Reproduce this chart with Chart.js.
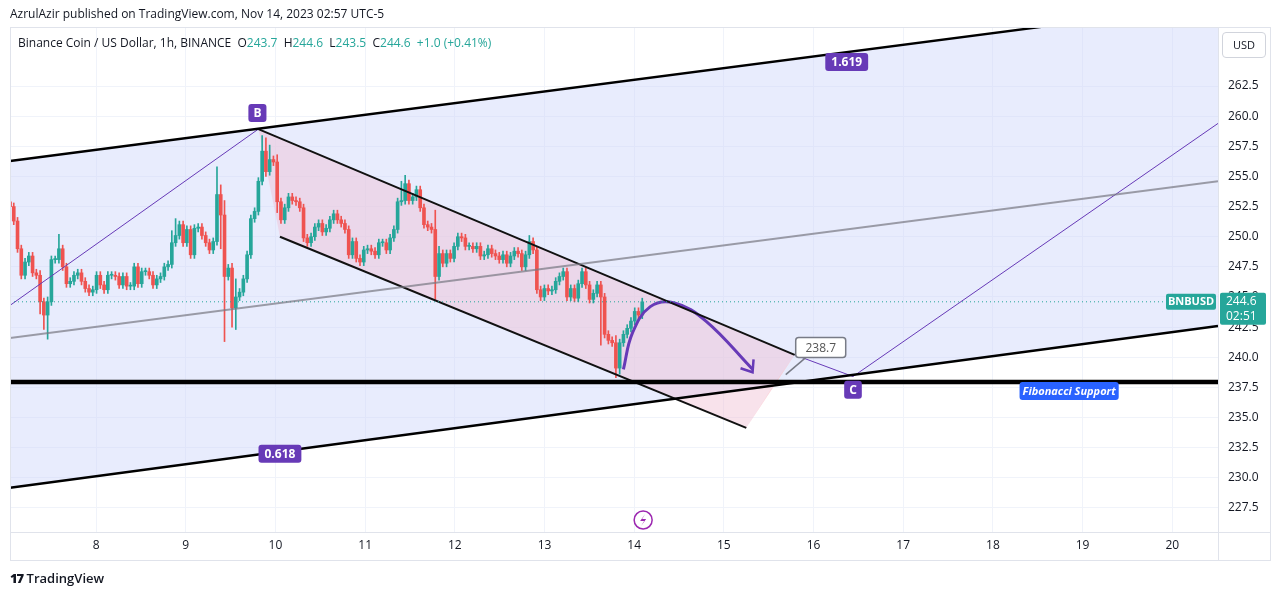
<!DOCTYPE html>
<html><head><meta charset="utf-8">
<script src="https://cdn.jsdelivr.net/npm/chart.js@4.4.0/dist/chart.umd.min.js"></script>
<style>
body{margin:0;background:#fff;font-family:"Open Sans",Roboto,sans-serif;}
#wrap{position:relative;width:1281px;height:595px;}
canvas{position:absolute;left:0;top:0;}
.t{position:absolute;white-space:nowrap;color:#131722;}
</style></head><body>
<div id="wrap">
<canvas id="c" width="1281" height="595"></canvas>
<div class="t" style="left:10px;top:5px;font-size:12px;">AzrulAzir published on TradingView.com, Nov 14, 2023 02:57 UTC-5</div>
<div class="t" style="left:18px;top:34px;font-size:12px;">Binance Coin / US Dollar, 1h, BINANCE&nbsp; O<span style="color:#26a69a">243.7</span>&nbsp; H<span style="color:#26a69a">244.6</span>&nbsp; L<span style="color:#26a69a">243.5</span>&nbsp; C<span style="color:#26a69a">244.6</span>&nbsp; <span style="color:#26a69a">+1.0 (+0.41%)</span></div>
<div class="t" style="left:1222px;top:32px;width:42px;height:24px;border:1px solid #d1d4dc;border-radius:4px;font-size:11px;line-height:24px;text-align:center;">USD</div>
<div class="t" style="left:10px;top:569px;font-size:13px;font-weight:600;"><span style="font-weight:900;letter-spacing:-1px">17</span> TradingView</div>
</div>
<script>
// ---- data ----
const startDay = 7.04, lastDay = 14.09;
const closes = [252.5,251.3,249.0,246.8,247.9,248.4,247.0,246.8,244.6,243.5,244.6,248.1,248.1,249.0,247.5,246.1,246.3,246.8,247.0,246.3,245.7,245.4,245.6,246.8,246.0,245.6,246.8,246.8,246.7,246.0,246.7,245.9,245.9,247.5,246.1,247.1,247.1,246.8,246.0,246.5,246.7,247.5,247.7,249.5,250.1,251.0,249.5,250.6,248.5,250.7,250.8,250.1,249.5,248.9,249.6,253.5,251.8,246.7,247.4,244.1,245.0,245.4,246.5,248.5,251.5,252.1,254.6,257.1,255.4,256.4,256.2,
252.9,251.4,252.4,253.3,253.0,252.9,252.4,249.9,249.5,250.0,250.8,251.1,250.4,250.7,251.4,251.9,251.4,251.1,250.6,248.5,249.6,248.2,247.9,248.9,249.0,248.8,248.5,249.5,249.5,248.9,249.9,250.6,252.9,253.0,254.4,253.0,253.3,253.9,252.4,251.0,250.8,250.6,246.7,248.6,247.8,248.6,248.2,249.2,250.0,249.9,249.2,
249.2,249.0,249.2,248.4,248.5,249.0,248.6,248.4,248.1,248.5,247.8,248.4,248.8,248.6,247.5,248.5,249.6,248.9,245.6,245.0,245.7,245.5,245.6,246.3,246.7,247.1,245.0,245.7,244.9,246.1,247.1,246.0,244.8,245.3,246.0,245.0,241.9,241.4,241.2,239.1,241.2,241.9,242.4,243.0,243.8,243.5,244.6];
const firstOpen = 252.9;
const wickOverrides = {0:[253.3,252.0],8:[247.2,243.6],9:[244.8,242.3],10:[245.0,241.5],13:[250.2,248.6],43:[250.5,248.8],44:[251.5,249.6],55:[255.8,251.5],56:[254.3,249.0],57:[253.0,241.3],59:[247.8,242.5],60:[246.5,242.3],67:[258.4,254.4],68:[258.2,255.0],69:[257.6,255.2],71:[256.8,252.0],104:[254.6,252.8],105:[255.1,252.9],113:[252.2,244.8],114:[249.2,246.5],138:[250.1,248.6],157:[245.3,241.0],161:[241.8,238.3],162:[241.5,238.6]};
const yTicks = [227.5,230,232.5,235,237.5,240,242.5,245,247.5,250,252.5,255,257.5,260,262.5];
const xTicks = [8,9,10,11,12,13,14,15,16,17,18,19,20];
// drawings (day, price)
const upperLine = [[7.04,256.28],[18.52,267.39],[20.6,269.4]];
const lowerLine = [[7.04,229.17],[20.51,242.6]];
const midLine = [[7.04,241.6],[20.51,254.6]];
const supportLevel = 237.95;
const lastPrice = 244.6;
const downTop = [[9.81,258.93],[15.79,240.2]];
const downBot = [[10.05,250.0],[15.25,234.14]];
const pinkTri = [[15.25,234.14],[15.79,240.2],[15.6,238.2]];
const purpleA = [[7.04,244.3],[9.81,258.93]];
const purpleB = [[15.79,240.2],[16.44,238.4],[20.51,259.4]];
const arc = [[13.88,239.0],[13.98,242.0],[14.18,244.2],[14.45,244.5],[14.8,243.0],[15.32,239.0]];

// ---- build candles ----
const step = (lastDay-startDay)/(closes.length-1);
const bodies=[], wicks=[], cols=[];
let o = firstOpen;
closes.forEach((c,i)=>{
  const x = startDay + i*step;
  let hi = Math.max(o,c)+0.3, lo = Math.min(o,c)-0.3;
  if (wickOverrides[i]) { hi = Math.max(hi,wickOverrides[i][0]); lo = Math.min(lo,wickOverrides[i][1]); }
  bodies.push({x, y:[o,c]}); wicks.push({x, y:[lo,hi]});
  cols.push(c>=o ? '#26a69a' : '#ef5350');
  o = c;
});
const pts = a => a.map(p=>({x:p[0],y:p[1]}));

const drawPlugin = {
  id:'draw',
  beforeDatasetsDraw(ch){
    const {ctx, scales:{x,y}, chartArea:ca} = ch;
    const P = p=>[x.getPixelForValue(p[0]), y.getPixelForValue(p[1])];
    ctx.save(); ctx.beginPath(); ctx.rect(ca.left,ca.top,ca.right-ca.left,ca.bottom-ca.top); ctx.clip();
    ctx.fillStyle='rgba(205,213,250,0.45)';
    ctx.beginPath();
    [upperLine[0],upperLine[2]].concat([lowerLine[1],lowerLine[0]]).forEach((p,i)=>{const q=P(p); i?ctx.lineTo(...q):ctx.moveTo(...q);});
    ctx.closePath(); ctx.fill();
    ctx.fillStyle='rgba(240,190,210,0.45)';
    ctx.beginPath();
    [downTop[0],downTop[1],downBot[1],downBot[0]].forEach((p,i)=>{const q=P(p); i?ctx.lineTo(...q):ctx.moveTo(...q);});
    ctx.closePath(); ctx.fill();
    ctx.fillStyle='rgba(255,200,200,0.6)';
    ctx.beginPath(); pinkTri.forEach((p,i)=>{const q=P(p); i?ctx.lineTo(...q):ctx.moveTo(...q);}); ctx.closePath(); ctx.fill();
    ctx.restore();
  },
  afterDatasetsDraw(ch){
    const {ctx, scales:{x,y}, chartArea:ca} = ch;
    const P = p=>[x.getPixelForValue(p[0]), y.getPixelForValue(p[1])];
    const e=P(arc[arc.length-1]);
    ctx.save();
    ctx.strokeStyle='#673ab7'; ctx.lineWidth=2.5;
    ctx.beginPath(); ctx.moveTo(e[0]-12,e[1]-1); ctx.lineTo(e[0],e[1]+3); ctx.lineTo(e[0]+1,e[1]-10); ctx.stroke();
    const box=(txt,p,bg,fg,dx,dy,font,pad)=>{
      ctx.font=font; const w=ctx.measureText(txt).width+pad*2, h=18;
      const cx=P(p)[0]+dx, cy=P(p)[1]+dy;
      ctx.fillStyle=bg; ctx.beginPath(); ctx.roundRect(cx-w/2,cy-h/2,w,h,3); ctx.fill();
      ctx.fillStyle=fg; ctx.textAlign='center'; ctx.textBaseline='middle'; ctx.fillText(txt,cx,cy+0.5);
    };
    box('B',downTop[0],'#673ab7','#fff',-1,-16,'bold 12px "Open Sans"',5);
    box('1.619',[16.37,264.5],'#673ab7','#fff',0,0,'bold 12px "Open Sans"',6);
    box('0.618',[10.05,232.0],'#673ab7','#fff',0,0,'bold 12px "Open Sans"',6);
    box('C',[16.44,237.3],'#673ab7','#fff',0,0,'bold 12px "Open Sans"',5);
    box('Fibonacci Support',[18.85,237.2],'#2962ff','#fff',0,0,'italic bold 11px "Open Sans"',3);
    ctx.strokeStyle='#787b86'; ctx.lineWidth=1.5; ctx.fillStyle='#fff';
    const cp=P([16.08,240.8]);
    ctx.beginPath(); ctx.roundRect(cp[0]-25,cp[1]-10,50,20,3); ctx.fill(); ctx.stroke();
    ctx.beginPath(); ctx.moveTo(cp[0]-15,cp[1]+10); ctx.lineTo(cp[0]-35,cp[1]+27); ctx.stroke();
    ctx.fillStyle='#555'; ctx.font='12px "Open Sans"'; ctx.textAlign='center'; ctx.textBaseline='middle'; ctx.fillText('238.7',cp[0],cp[1]+1);
    const ly=y.getPixelForValue(lastPrice);
    ctx.fillStyle='#26a69a'; ctx.beginPath(); ctx.roundRect(ca.right-52,ly-8,50,16,2); ctx.fill();
    ctx.fillStyle='#fff'; ctx.font='bold 11px "Open Sans"'; ctx.fillText('BNBUSD',ca.right-27,ly);
    ctx.fillStyle='#26a69a'; ctx.beginPath(); ctx.roundRect(ca.right+2,ly-9,46,32,2); ctx.fill();
    ctx.fillStyle='#fff'; ctx.font='12px "Open Sans"'; ctx.textAlign='left'; ctx.fillText('244.6',ca.right+8,ly); ctx.fillText('02:51',ca.right+8,ly+15);
    const lp=[x.getPixelForValue(14.1),ca.bottom-12];
    ctx.strokeStyle='#9c27b0'; ctx.lineWidth=1.5; ctx.beginPath(); ctx.arc(lp[0],lp[1],9,0,Math.PI*2); ctx.stroke();
    ctx.fillStyle='#9c27b0'; ctx.beginPath(); ctx.moveTo(lp[0]+2,lp[1]-6); ctx.lineTo(lp[0]-3,lp[1]+1); ctx.lineTo(lp[0]+1,lp[1]+1); ctx.lineTo(lp[0]-2,lp[1]+6); ctx.lineTo(lp[0]+3,lp[1]-1); ctx.lineTo(lp[0]-1,lp[1]-1); ctx.closePath(); ctx.fill();
    ctx.strokeStyle='#e0e3eb'; ctx.lineWidth=1;
    ctx.strokeRect(ca.left+0.5,ca.top+0.5,ca.right-ca.left+52,ca.bottom-ca.top+28);
    ctx.beginPath(); ctx.moveTo(ca.right+0.5,ca.top); ctx.lineTo(ca.right+0.5,ca.bottom+28); ctx.moveTo(ca.left,ca.bottom+0.5); ctx.lineTo(ca.right+52,ca.bottom+0.5); ctx.stroke();
    ctx.restore();
  }
};
const lineDs=(data,color,w,extra)=>Object.assign({type:'line',data:pts(data),borderColor:color,borderWidth:w,pointRadius:0,fill:false,tension:0,order:0},extra||{});
new Chart(document.getElementById('c'),{
  data:{datasets:[
    lineDs(upperLine,'#000',2.5),
    lineDs(lowerLine,'#000',2.5),
    lineDs(midLine,'rgba(120,120,130,0.7)',2),
    lineDs([[7.04,supportLevel],[20.51,supportLevel]],'#000',4.5),
    lineDs([[7.04,lastPrice],[20.51,lastPrice]],'#26a69a',1,{borderDash:[1,3]}),
    lineDs(downTop,'#111',2),
    lineDs(downBot,'#111',2),
    lineDs(purpleA,'#673ab7',1),
    lineDs(purpleB,'#673ab7',1),
    lineDs(arc,'#673ab7',3,{tension:0.4}),
    {type:'bar',data:wicks,backgroundColor:cols,barThickness:1,grouped:false,order:2},
    {type:'bar',data:bodies,backgroundColor:cols,barThickness:3,grouped:false,minBarLength:1,order:1}
  ]},
  options:{
    responsive:false,animation:false,
    layout:{padding:{top:27,left:10,right:11,bottom:35}},
    plugins:{legend:{display:false},tooltip:{enabled:false}},
    scales:{
      x:{type:'linear',min:7.04,max:20.51,offset:false,
        afterBuildTicks:s=>{s.ticks=xTicks.map(v=>({value:v}));},
        afterFit:s=>{s.height=28;},
        grid:{color:'#f0f3fa',drawTicks:false,offset:false},border:{display:false},
        ticks:{color:'#131722',font:{size:12,family:'Open Sans'},padding:6,autoSkip:false}},
      y:{type:'linear',position:'right',min:225.5,max:267.4,
        afterBuildTicks:s=>{s.ticks=yTicks.map(v=>({value:v}));},
        afterFit:s=>{s.width=52;},
        grid:{color:'#f0f3fa',drawTicks:false},border:{display:false},
        ticks:{color:'#131722',font:{size:12,family:'Open Sans'},padding:10,callback:v=>v.toFixed(1)}}
    }
  },
  plugins:[drawPlugin]
});
</script></body></html>
